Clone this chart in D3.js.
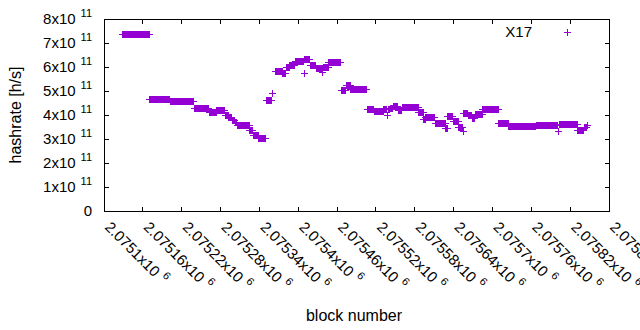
<!DOCTYPE html>
<html>
<head>
<meta charset="utf-8">
<script src="https://cdn.jsdelivr.net/npm/d3@7"></script>
<style>
  body { margin: 0; background: #fff; }
  text { font-family: "Liberation Sans", Arial, sans-serif; fill: #000; }
</style>
</head>
<body>
<div id="chart"></div>
<script>
// hashrate per block, stored as runs of equal value (block offset from 2075100, value in 1e11 h/s)
const runStart = [28, 71, 102, 140, 163, 174, 187, 193, 198, 203, 206, 225, 231, 239, 251, 260, 265, 276, 282, 287,
                  296, 309, 310, 319, 328, 338, 339, 347, 367, 374, 381, 407, 418, 432, 438, 439, 442, 447, 455, 461,
                  486, 494, 497, 512, 528, 531, 540, 548, 555, 556, 563, 569, 574, 585, 610, 625, 668, 702, 703, 732,
                  742, 747];
const runEnd   = [70, 101, 139, 162, 173, 186, 192, 197, 202, 205, 224, 230, 238, 250, 258, 261, 275, 281, 286, 295,
                  308, 309, 318, 327, 337, 338, 346, 366, 373, 380, 406, 417, 431, 437, 438, 441, 446, 454, 460, 485,
                  493, 496, 511, 527, 530, 539, 547, 554, 555, 562, 568, 573, 584, 609, 624, 667, 701, 702, 731, 741,
                  746, 747];
const runValue = [7.36, 4.65, 4.57, 4.28, 4.11, 4.20, 3.98, 3.88, 3.77, 3.68, 3.58, 3.35, 3.15, 3.03, 4.61, 4.90, 5.83, 5.74, 5.97, 6.08,
                  6.21, 5.74, 6.32, 6.07, 5.94, 5.76, 6.00, 6.20, 5.03, 5.21, 5.07, 4.24, 4.14, 4.24, 4.00, 4.24, 4.28, 4.37, 4.17, 4.33,
                  4.11, 3.80, 3.90, 3.65, 3.42, 3.92, 3.75, 3.49, 3.30, 4.07, 4.00, 3.86, 4.03, 4.21, 3.63, 3.51, 3.57, 3.30, 3.62, 3.36,
                  3.50, 3.56];

const blockBase = 2075100;
const xTicks = d3.range(0, 14).map(i => blockBase + i * 60);
const xTickLabels = ['2.0751', '2.07516', '2.07522', '2.07528', '2.07534', '2.0754', '2.07546',
                     '2.07552', '2.07558', '2.07564', '2.0757', '2.07576', '2.07582', '2.07588'];
const yTicks = [0, 1, 2, 3, 4, 5, 6, 7, 8];
const seriesName = 'X17';

const svgWidth = 640, svgHeight = 330;
const margin = { top: 19, right: 31, bottom: 119, left: 104 };
const width = svgWidth - margin.left - margin.right;
const height = svgHeight - margin.top - margin.bottom;
const color = '#9400d3';

// expand runs into one point per block
const points = [];
runStart.forEach((s, i) => {
  for (let b = s; b <= runEnd[i]; b++) points.push({ block: blockBase + b, value: runValue[i] });
});

const svg = d3.select('#chart').append('svg')
  .attr('width', svgWidth)
  .attr('height', svgHeight);

const g = svg.append('g')
  .attr('transform', `translate(${margin.left}, ${margin.top})`);

const xScale = d3.scaleLinear()
  .domain([blockBase, blockBase + 780])
  .range([0, width]);

const yScale = d3.scaleLinear()
  .domain([0, 8])
  .range([height, 0]);

// ticks on all four sides, pointing inward
const tickLen = 4.5;
const ticks = g.append('g').attr('stroke', '#000').attr('stroke-width', 1).attr('shape-rendering', 'crispEdges');
xTicks.forEach(t => {
  const x = xScale(t);
  ticks.append('line').attr('x1', x).attr('x2', x).attr('y1', height).attr('y2', height - tickLen);
  ticks.append('line').attr('x1', x).attr('x2', x).attr('y1', 0).attr('y2', tickLen);
});
yTicks.forEach(t => {
  const y = yScale(t);
  ticks.append('line').attr('x1', 0).attr('x2', tickLen).attr('y1', y).attr('y2', y);
  ticks.append('line').attr('x1', width).attr('x2', width - tickLen).attr('y1', y).attr('y2', y);
});

// y tick labels like "4x10^11"
yTicks.forEach(t => {
  const txt = g.append('text')
    .attr('x', -12)
    .attr('y', yScale(t) + 5.4)
    .attr('text-anchor', 'end')
    .style('font-size', '15px');
  if (t === 0) {
    txt.text('0');
  } else {
    txt.append('tspan').text(t + 'x10');
    txt.append('tspan').attr('dx', 5).attr('dy', -7).style('font-size', '11px').text('11');
  }
});

// x tick labels, rotated
xTicks.forEach((t, i) => {
  const x = xScale(t);
  const txt = g.append('text')
    .attr('transform', `translate(${x}, ${height + 17}) rotate(45)`)
    .style('font-size', '15px');
  txt.append('tspan').text(xTickLabels[i] + 'x10');
  txt.append('tspan').attr('dx', 5).attr('dy', -7).style('font-size', '11px').text('6');
});

// points as "+"
const s = 3.5;
let d = '';
points.forEach(p => {
  const x = xScale(p.block), y = yScale(p.value);
  d += `M${x - s},${y}h${2 * s}M${x},${y - s}v${2 * s}`;
});
g.append('path')
  .attr('d', d)
  .attr('fill', 'none')
  .attr('stroke', color)
  .attr('stroke-width', 1)
  .attr('shape-rendering', 'crispEdges');

// border
g.append('rect')
  .attr('width', width)
  .attr('height', height)
  .attr('fill', 'none')
  .attr('stroke', '#000')
  .attr('shape-rendering', 'crispEdges');

// legend
g.append('text')
  .attr('x', 428)
  .attr('y', 18)
  .attr('text-anchor', 'end')
  .style('font-size', '15px')
  .text(seriesName);
g.append('path')
  .attr('d', `M${463 - s},13h${2 * s}M463,${13 - s}v${2 * s}`)
  .attr('stroke', color)
  .attr('shape-rendering', 'crispEdges');

// axis titles
svg.append('text')
  .attr('x', 354)
  .attr('y', 321)
  .attr('text-anchor', 'middle')
  .style('font-size', '16px')
  .text('block number');

svg.append('text')
  .attr('transform', 'translate(21, 115) rotate(-90)')
  .attr('text-anchor', 'middle')
  .style('font-size', '16px')
  .text('hashrate [h/s]');
</script>
</body>
</html>
